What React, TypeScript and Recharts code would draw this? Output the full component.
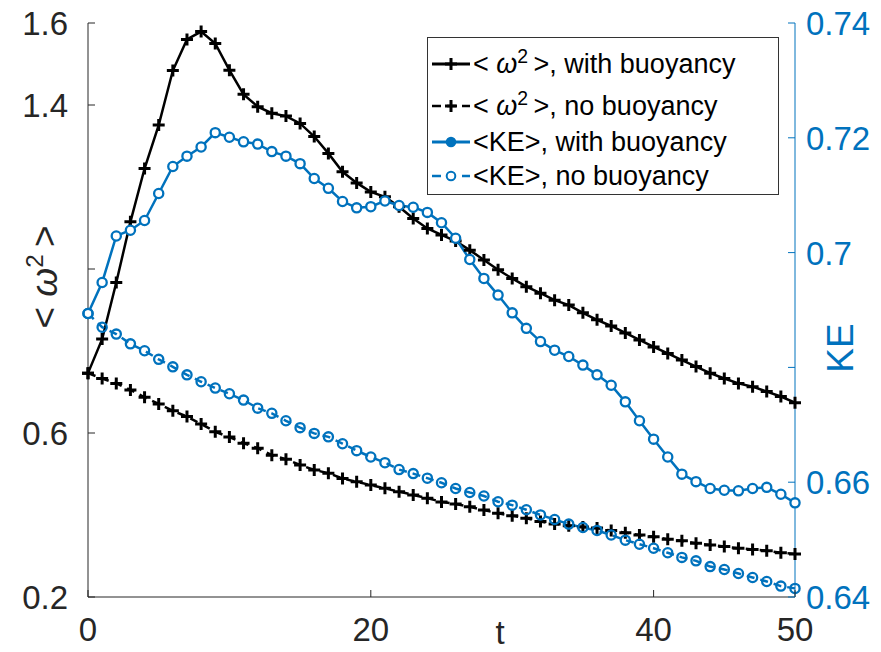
import React from "react";
import { LineChart, Line, XAxis, YAxis } from "recharts";

document.body.style.margin = "0";

const T = [
  0, 1, 2, 3, 4, 5, 6, 7, 8, 9, 10, 11, 12, 13, 14, 15, 16, 17, 18, 19, 20, 21, 22, 23, 24, 25,
  26, 27, 28, 29, 30, 31, 32, 33, 34, 35, 36, 37, 38, 39, 40, 41, 42, 43, 44, 45, 46, 47, 48, 49, 50,
];

// <omega^2>, left axis
const OMEGA_BUOY = [
  0.746, 0.829, 0.967, 1.115, 1.245, 1.351, 1.484, 1.56, 1.579, 1.55, 1.485, 1.426, 1.396, 1.38,
  1.373, 1.355, 1.323, 1.282, 1.237, 1.21, 1.188, 1.176, 1.152, 1.123, 1.099, 1.083, 1.068, 1.046,
  1.022, 0.998, 0.977, 0.957, 0.941, 0.924, 0.912, 0.893, 0.876, 0.861, 0.844, 0.827, 0.81, 0.794,
  0.778, 0.762, 0.746, 0.733, 0.721, 0.713, 0.701, 0.689, 0.674,
];
const OMEGA_NOBUOY = [
  0.746, 0.733, 0.721, 0.705, 0.687, 0.671, 0.654, 0.64, 0.622, 0.603, 0.59, 0.575, 0.563, 0.546,
  0.536, 0.522, 0.51, 0.502, 0.489, 0.481, 0.473, 0.465, 0.457, 0.449, 0.441, 0.432, 0.427, 0.42,
  0.412, 0.404, 0.398, 0.392, 0.384, 0.378, 0.374, 0.371, 0.368, 0.362, 0.357, 0.351, 0.347, 0.341,
  0.337, 0.331, 0.327, 0.323, 0.319, 0.316, 0.313, 0.308, 0.305,
];

// <KE>, right axis
const KE_BUOY = [
  0.6894, 0.6948, 0.7029, 0.7039, 0.7056, 0.7103, 0.715, 0.7168, 0.7184, 0.7209, 0.7201, 0.7193,
  0.7189, 0.7176, 0.7168, 0.7155, 0.7129, 0.7112, 0.7089, 0.7078, 0.708, 0.709, 0.7082, 0.7079,
  0.707, 0.7052, 0.7025, 0.6988, 0.6955, 0.6926, 0.6895, 0.6868, 0.6845, 0.683, 0.6819, 0.6804,
  0.6787, 0.6769, 0.674, 0.6707, 0.6675, 0.6644, 0.6614, 0.6601, 0.6589, 0.6586, 0.6585, 0.6589,
  0.6591, 0.6579, 0.6564,
];
const KE_NOBUOY = [
  0.6894, 0.687, 0.6858, 0.6841, 0.6829, 0.6814, 0.6801, 0.6787, 0.6775, 0.6764, 0.6754, 0.6743,
  0.6729, 0.672, 0.6707, 0.6695, 0.6685, 0.6679, 0.6667, 0.6655, 0.6644, 0.6634, 0.6622, 0.6615,
  0.6607, 0.6599, 0.6589, 0.6582, 0.6576, 0.6566, 0.656, 0.6552, 0.6543, 0.6535, 0.6527, 0.6521,
  0.6516, 0.6508, 0.6499, 0.6492, 0.6485, 0.6477, 0.6469, 0.6463, 0.6453, 0.6448, 0.6441, 0.6434,
  0.6427, 0.6419, 0.6415,
];

const X_TICKS = [0, 20, 40, 50];
const LEFT_TICKS = [0.2, 0.6, 1.0, 1.4, 1.6];
const LEFT_LABELS = ["0.2", "0.6", "", "1.4", "1.6"];
const RIGHT_TICKS = [0.64, 0.66, 0.68, 0.7, 0.72, 0.74];
const RIGHT_LABELS = ["0.64", "0.66", "", "0.7", "0.72", "0.74"];

const data = T.map((t, i) => ({
  t,
  wB: OMEGA_BUOY[i],
  wN: OMEGA_NOBUOY[i],
  keB: KE_BUOY[i],
  keN: KE_NOBUOY[i],
}));

const BLUE = "#0072BD";
const DARK = "#262626";
const FONT = "'Liberation Sans', Arial, Helvetica, sans-serif";

const plusDot = (props: any) => {
  const { cx, cy, index } = props;
  return (
    <path
      key={index}
      d={`M${cx - 6},${cy}H${cx + 6}M${cx},${cy - 6}V${cy + 6}`}
      stroke="#000"
      strokeWidth={3}
    />
  );
};

const circleDot = (fill: string) => (props: any) => {
  const { cx, cy, index } = props;
  return <circle key={index} cx={cx} cy={cy} r={4.6} fill={fill} stroke={BLUE} strokeWidth={2.3} />;
};

const BottomTick = (props: any) => {
  const { x, y, payload } = props;
  return (
    <g>
      <line x1={x} x2={x} y1={y} y2={y - 7} stroke={DARK} strokeWidth={1} />
      <text x={x} y={y + 44} textAnchor="middle" fontSize={33} fill={DARK} fontFamily={FONT}>
        {payload.value}
      </text>
    </g>
  );
};

const TopTick = (props: any) => {
  const { x, y } = props;
  return <line x1={x} x2={x} y1={y} y2={y + 7} stroke={DARK} strokeWidth={1} />;
};

const LeftTick = (props: any) => {
  const { x, y, index } = props;
  return (
    <g>
      <line x1={x} x2={x + 7} y1={y} y2={y} stroke={DARK} strokeWidth={1} />
      <text x={x - 20} y={y + 12} textAnchor="end" fontSize={33} fill={DARK} fontFamily={FONT}>
        {LEFT_LABELS[index]}
      </text>
    </g>
  );
};

const RightTick = (props: any) => {
  const { x, y, index } = props;
  return (
    <g>
      <line x1={x} x2={x - 7} y1={y} y2={y} stroke={BLUE} strokeWidth={1} />
      <text x={x + 11} y={y + 12} textAnchor="start" fontSize={33} fill={BLUE} fontFamily={FONT}>
        {RIGHT_LABELS[index]}
      </text>
    </g>
  );
};

const LegendRow = ({ top, dashed, kind, children }: any) => {
  const color = kind === "plus" ? "#000" : BLUE;
  return (
    <div style={{ position: "absolute", left: 0, top, height: 36, display: "flex", alignItems: "center" }}>
      <svg width={44} height={20} style={{ marginLeft: 2 }}>
        <line
          x1={2}
          x2={40}
          y1={10}
          y2={10}
          stroke={color}
          strokeWidth={dashed ? 2.5 : 3}
          strokeDasharray={dashed ? "9 6" : undefined}
        />
        {kind === "plus" ? (
          <path d="M15,10H27M21,4V16" stroke="#000" strokeWidth={3} />
        ) : (
          <circle cx={21} cy={10} r={4.3} fill={dashed ? "#fff" : BLUE} stroke={BLUE} strokeWidth={2} />
        )}
      </svg>
      <span style={{ fontSize: 27, color: "#000", whiteSpace: "nowrap", marginLeft: -1 }}>{children}</span>
    </div>
  );
};

const OmegaText = () => (
  <>
    {"< "}
    <i>ω</i>
    <sup style={{ fontSize: "0.72em", verticalAlign: "0.5em", lineHeight: 0 }}>2</sup>
    {"\u2009>"}
  </>
);

export default function App() {
  return (
    <div style={{ position: "relative", width: 881, height: 652, background: "#fff", fontFamily: FONT }}>
      <LineChart width={881} height={652} data={data} margin={{ top: 23, right: 0, left: 0, bottom: 0 }}>
        <XAxis
          dataKey="t"
          type="number"
          domain={[0, 50]}
          ticks={X_TICKS}
          height={55}
          tickSize={0}
          tickMargin={0}
          axisLine={{ stroke: DARK, strokeWidth: 1 }}
          tickLine={false}
          tick={<BottomTick />}
          label={{
            content: () => (
              <text x={500} y={644} textAnchor="middle" fontSize={33} fill={DARK} fontFamily={FONT}>
                t
              </text>
            ),
          }}
        />
        <XAxis
          xAxisId="top"
          dataKey="t"
          type="number"
          orientation="top"
          domain={[0, 50]}
          ticks={X_TICKS}
          height={0}
          tickSize={0}
          tickMargin={0}
          axisLine={{ stroke: DARK, strokeWidth: 1 }}
          tickLine={false}
          tick={<TopTick />}
        />
        <YAxis
          yAxisId="left"
          type="number"
          domain={[0.2, 1.6]}
          ticks={LEFT_TICKS}
          width={88}
          tickSize={0}
          tickMargin={0}
          axisLine={{ stroke: DARK, strokeWidth: 1 }}
          tickLine={false}
          tick={<LeftTick />}
          label={{
            content: () => (
              <text
                transform="translate(57,277) rotate(-90)"
                textAnchor="middle"
                fontSize={37}
                fill={DARK}
                fontFamily={FONT}
              >
                {"< "}
                <tspan fontStyle="italic">ω</tspan>
                <tspan fontSize={24} dy={-14}>2</tspan>
                <tspan dy={14}>{"\u2009>"}</tspan>
              </text>
            ),
          }}
        />
        <YAxis
          yAxisId="right"
          orientation="right"
          type="number"
          domain={[0.64, 0.74]}
          ticks={RIGHT_TICKS}
          width={86}
          tickSize={0}
          tickMargin={0}
          axisLine={{ stroke: BLUE, strokeWidth: 1 }}
          tickLine={false}
          tick={<RightTick />}
          label={{
            content: () => (
              <text
                transform="translate(853,348) rotate(-90)"
                textAnchor="middle"
                fontSize={37}
                fill={BLUE}
                fontFamily={FONT}
              >
                KE
              </text>
            ),
          }}
        />
        <Line
          yAxisId="left"
          type="linear"
          dataKey="wB"
          stroke="#000"
          strokeWidth={2.5}
          dot={plusDot}
          isAnimationActive={false}
        />
        <Line
          yAxisId="left"
          type="linear"
          dataKey="wN"
          stroke="#000"
          strokeWidth={2.5}
          strokeDasharray="8 6"
          dot={plusDot}
          isAnimationActive={false}
        />
        <Line
          yAxisId="right"
          type="linear"
          dataKey="keB"
          stroke={BLUE}
          strokeWidth={2.5}
          dot={circleDot("#fff")}
          isAnimationActive={false}
        />
        <Line
          yAxisId="right"
          type="linear"
          dataKey="keN"
          stroke={BLUE}
          strokeWidth={2.5}
          strokeDasharray="8 6"
          dot={circleDot("none")}
          isAnimationActive={false}
        />
      </LineChart>
      <div
        style={{
          position: "absolute",
          left: 427,
          top: 37,
          width: 352,
          height: 158,
          border: "1px solid #333",
          background: "#fff",
          boxSizing: "border-box",
        }}
      >
        <LegendRow top={8} kind="plus">
          <OmegaText />, with buoyancy
        </LegendRow>
        <LegendRow top={50} kind="plus" dashed>
          <OmegaText />, no buoyancy
        </LegendRow>
        <LegendRow top={86} kind="circle">
          {"<KE>, with buoyancy"}
        </LegendRow>
        <LegendRow top={120} kind="circle" dashed>
          {"<KE>, no buoyancy"}
        </LegendRow>
      </div>
    </div>
  );
}
